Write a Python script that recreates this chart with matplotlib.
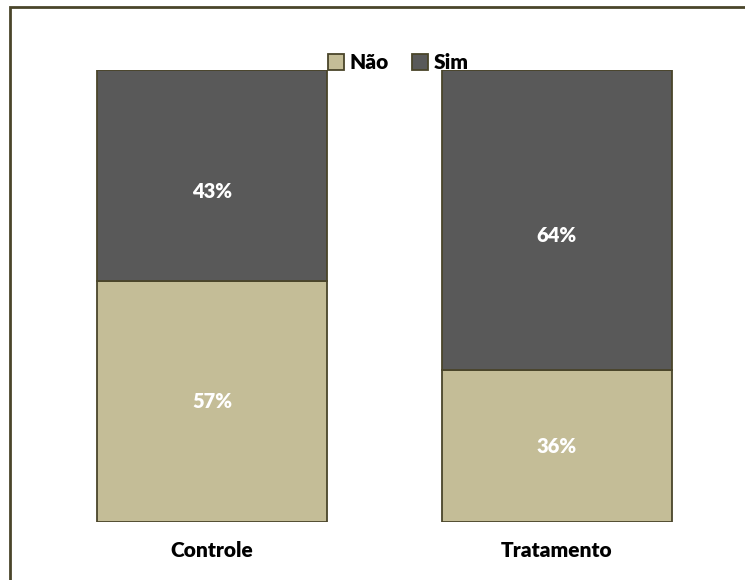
import matplotlib.pyplot as plt
from matplotlib.patches import Rectangle

categories = ["Controle", "Tratamento"]
nao = [0.533, 0.336]
sim = [0.467, 0.664]
nao_labels = ["57%", "36%"]
sim_labels = ["43%", "64%"]

tan = "#C4BD97"
grey = "#595959"
edge = "#4A452A"

plt.rcParams["font.family"] = ["Lato", "DejaVu Sans"]

fig = plt.figure(figsize=(7.45, 5.8), dpi=100)
ax = fig.add_axes([0.053, 0.1, 0.926, 0.779])

x = range(len(categories))
ax.bar(x, nao, width=0.667, color=tan, edgecolor=edge, linewidth=1.3, label="Não")
ax.bar(x, sim, width=0.667, bottom=nao, color=grey, edgecolor=edge, linewidth=1.3, label="Sim")

for i in x:
    ax.text(i, nao[i] / 2, nao_labels[i], ha="center", va="center",
            color="white", fontsize=14.5, fontweight="heavy")
    ax.text(i, nao[i] + sim[i] / 2 - 0.034, sim_labels[i], ha="center", va="center",
            color="white", fontsize=14.5, fontweight="heavy")

ax.set_xlim(-0.5, 1.5)
ax.set_ylim(0, 1)
ax.set_xticks(list(x))
ax.set_xticklabels(categories, fontsize=15, fontweight="heavy")
ax.tick_params(axis="x", length=0, pad=14)
ax.set_yticks([])
for s in ax.spines.values():
    s.set_visible(False)

leg = fig.legend(loc="center", bbox_to_anchor=(0.535, 0.892), ncol=2, frameon=False,
                 handlelength=0.75, handleheight=0.75, handletextpad=0.3, columnspacing=1.1,
                 prop={"weight": "heavy", "size": 15})

fig.patches.append(Rectangle((10 / 745, -0.1), 1.2, 1.1 - 7 / 580, transform=fig.transFigure,
                             fill=False, edgecolor=edge, linewidth=2))

fig.savefig("out.png", dpi=100)
